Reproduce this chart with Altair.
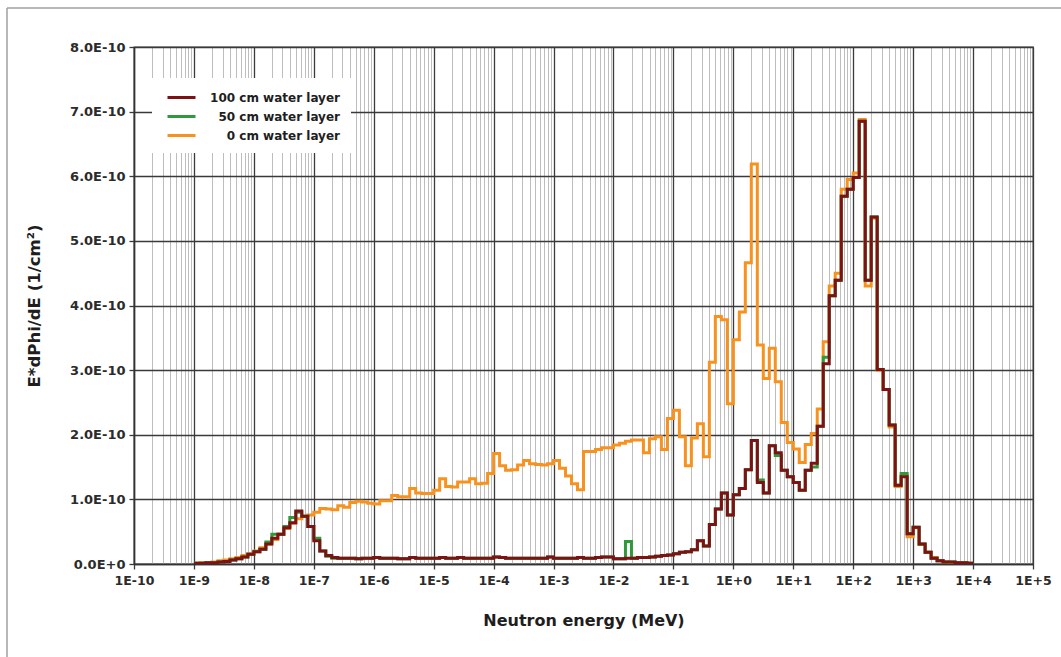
import altair as alt
import pandas as pd

# Energy groups: 10 equal-lethargy groups per decade, first edge at 1E-9 MeV
FIRST_EDGE_EXP = -9
GROUPS_PER_DECADE = 10
FLUX_UNIT = 1e-10  # flux values below are in units of 1E-10 per cm²

series_names = ["100 cm water layer", "50 cm water layer", "0 cm water layer"]
series_colors = ["#7c1214", "#2f9a3a", "#f7921f"]

# E*dPhi/dE per group, one row per decade (1E-9 ... 1E+4 MeV)
flux_100cm = [
    0.01, 0.01, 0.02, 0.02, 0.03, 0.04, 0.06, 0.08, 0.11, 0.15,
    0.19, 0.23, 0.31, 0.40, 0.46, 0.56, 0.64, 0.82, 0.74, 0.58,
    0.36, 0.20, 0.13, 0.10, 0.09, 0.09, 0.09, 0.08, 0.09, 0.09,
    0.10, 0.09, 0.09, 0.09, 0.08, 0.08, 0.10, 0.09, 0.09, 0.09,
    0.09, 0.10, 0.09, 0.09, 0.10, 0.09, 0.09, 0.09, 0.09, 0.09,
    0.11, 0.10, 0.09, 0.09, 0.09, 0.09, 0.09, 0.09, 0.09, 0.11,
    0.09, 0.09, 0.09, 0.09, 0.10, 0.09, 0.09, 0.10, 0.11, 0.11,
    0.08, 0.08, 0.09, 0.09, 0.10, 0.10, 0.11, 0.12, 0.13, 0.14,
    0.16, 0.18, 0.19, 0.22, 0.36, 0.28, 0.61, 0.85, 1.10, 0.76,
    1.07, 1.17, 1.46, 1.91, 1.26, 1.10, 1.83, 1.72, 1.45, 1.35,
    1.26, 1.14, 1.45, 1.56, 2.13, 3.10, 4.15, 4.39, 5.69, 5.80,
    5.98, 6.85, 4.39, 5.37, 3.01, 2.70, 2.15, 1.22, 1.35, 0.47,
    0.57, 0.31, 0.18, 0.09, 0.05, 0.03, 0.03, 0.02, 0.02, 0.01,
]

flux_50cm = [
    0.01, 0.01, 0.02, 0.02, 0.03, 0.04, 0.06, 0.08, 0.11, 0.15,
    0.19, 0.23, 0.34, 0.46, 0.46, 0.58, 0.72, 0.80, 0.74, 0.58,
    0.40, 0.20, 0.12, 0.09, 0.09, 0.09, 0.09, 0.08, 0.09, 0.09,
    0.10, 0.09, 0.09, 0.09, 0.08, 0.08, 0.10, 0.09, 0.09, 0.09,
    0.09, 0.10, 0.09, 0.09, 0.10, 0.09, 0.09, 0.09, 0.09, 0.09,
    0.11, 0.10, 0.09, 0.09, 0.09, 0.09, 0.09, 0.09, 0.09, 0.11,
    0.09, 0.09, 0.09, 0.09, 0.10, 0.09, 0.09, 0.10, 0.11, 0.11,
    0.08, 0.08, 0.35, 0.09, 0.10, 0.10, 0.11, 0.12, 0.13, 0.14,
    0.16, 0.18, 0.19, 0.22, 0.36, 0.28, 0.61, 0.85, 1.10, 0.76,
    1.07, 1.17, 1.46, 1.91, 1.30, 1.10, 1.83, 1.68, 1.45, 1.35,
    1.26, 1.14, 1.45, 1.50, 2.13, 3.20, 4.15, 4.39, 5.69, 5.80,
    5.98, 6.85, 4.39, 5.37, 3.01, 2.70, 2.15, 1.22, 1.40, 0.47,
    0.57, 0.31, 0.18, 0.09, 0.05, 0.03, 0.03, 0.02, 0.02, 0.01,
]

flux_0cm = [
    0.01, 0.02, 0.02, 0.03, 0.05, 0.06, 0.08, 0.10, 0.13, 0.16,
    0.20, 0.25, 0.31, 0.38, 0.46, 0.55, 0.63, 0.70, 0.74, 0.76,
    0.80, 0.86, 0.85, 0.84, 0.90, 0.88, 0.95, 0.97, 0.96, 0.94,
    0.93, 0.98, 0.98, 1.06, 1.04, 1.04, 1.17, 1.10, 1.09, 1.09,
    1.14, 1.32, 1.20, 1.19, 1.27, 1.27, 1.32, 1.24, 1.25, 1.40,
    1.71, 1.52, 1.45, 1.46, 1.53, 1.60, 1.55, 1.54, 1.53, 1.55,
    1.60, 1.48, 1.36, 1.24, 1.15, 1.74, 1.74, 1.77, 1.80, 1.80,
    1.84, 1.87, 1.90, 1.92, 1.92, 1.72, 1.94, 1.97, 1.77, 2.25,
    2.38, 1.97, 1.52, 1.95, 2.17, 1.66, 3.12, 3.83, 3.78, 2.48,
    3.47, 3.90, 4.66, 6.19, 3.39, 2.87, 3.34, 2.82, 2.19, 1.88,
    1.78, 1.57, 1.85, 2.02, 2.40, 3.44, 4.30, 4.50, 5.80, 5.95,
    6.05, 6.88, 4.30, 5.35, 3.00, 2.70, 2.12, 1.20, 1.36, 0.42,
    0.56, 0.30, 0.18, 0.10, 0.05, 0.03, 0.02, 0.02, 0.01, 0.01,
]

# Axis tick positions
x_major_exps = list(range(-10, 6))
x_minor_mults = [2, 3, 4, 5, 6, 7, 8, 9]
y_tick_units = [0, 1, 2, 3, 4, 5, 6, 7, 8]

FONT = "DejaVu Sans"
MAJOR_GRID = "#3a3a3a"
MINOR_GRID = "#bdbdbd"


def step_frame(name, values):
    """Group lower edges with their values, plus the last upper edge to close the final step."""
    n = len(values)
    edges = [10.0 ** (FIRST_EDGE_EXP + k / GROUPS_PER_DECADE) for k in range(n + 1)]
    flux = [v * FLUX_UNIT for v in values] + [values[-1] * FLUX_UNIT]
    return pd.DataFrame({"energy": edges, "flux": flux, "series": name})


x_major = [10.0 ** e for e in x_major_exps]
x_minor = [m * 10.0 ** e for e in x_major_exps[:-1] for m in x_minor_mults]
x_ticks = sorted(x_major + x_minor)
y_ticks = [k * FLUX_UNIT for k in y_tick_units]

IS_DECADE = "abs(log(datum.value) / LN10 - round(log(datum.value) / LN10)) < 0.001"
DECADE_LABEL = (
    f"{IS_DECADE} ? '1E' + (round(log(datum.value) / LN10) >= 0 ? '+' : '') "
    "+ round(log(datum.value) / LN10) : ''"
)

x_scale = alt.Scale(type="log", domain=[x_major[0], x_major[-1]], nice=False)
y_scale = alt.Scale(domain=[0, y_ticks[-1]], nice=False, zero=True)

x_axis = alt.Axis(
    values=x_ticks,
    labelExpr=DECADE_LABEL,
    labelOverlap=False,
    labelFlush=False,
    labelFont=FONT,
    labelFontWeight="bold",
    labelFontSize=12.5,
    labelColor="#2b2b2b",
    labelPadding=5,
    grid=True,
    gridColor={"condition": {"test": IS_DECADE, "value": MAJOR_GRID}, "value": MINOR_GRID},
    gridWidth={"condition": {"test": IS_DECADE, "value": 1.3}, "value": 1},
    tickColor=MAJOR_GRID,
    tickSize={"condition": {"test": IS_DECADE, "value": 5}, "value": 0},
    tickWidth=1.3,
    domainColor="#333333",
    domainWidth=1.5,
    title="Neutron energy (MeV)",
    titleFont=FONT,
    titleFontSize=16,
    titleFontWeight="bold",
    titleColor="#1e1e1e",
    titlePadding=26,
)

y_axis = alt.Axis(
    values=y_ticks,
    labelExpr="datum.value == 0 ? '0.0E+0' : format(datum.value / 1e-10, '.1f') + 'E-10'",
    labelFont=FONT,
    labelFontWeight="bold",
    labelFontSize=13,
    labelColor="#2b2b2b",
    labelPadding=4,
    grid=True,
    gridColor=MAJOR_GRID,
    gridWidth=1.3,
    tickColor=MAJOR_GRID,
    tickSize=5,
    tickWidth=1.3,
    domainColor="#333333",
    domainWidth=1.5,
    title="E*dPhi/dE (1/cm²)",
    titleFont=FONT,
    titleFontSize=16.5,
    titleFontWeight="bold",
    titleColor="#1e1e1e",
    titlePadding=27,
)

legend = alt.Legend(
    title=None,
    orient="none",
    legendX=18,
    legendY=31,
    fillColor="white",
    padding=11,
    symbolType="M-2,0H2",
    symbolSize=196,
    symbolStrokeWidth=3,
    symbolOffset=10,
    labelFont=FONT,
    labelFontWeight="bold",
    labelFontSize=12,
    labelColor="#1e1e1e",
    labelAlign="right",
    labelOffset=150,
    rowPadding=4,
)

color = alt.Color(
    "series:N",
    scale=alt.Scale(domain=series_names, range=series_colors),
    legend=legend,
)


def series_layer(name, values):
    return (
        alt.Chart(step_frame(name, values))
        .mark_line(interpolate="step-after", strokeWidth=3, clip=True)
        .encode(
            x=alt.X("energy:Q", scale=x_scale, axis=x_axis),
            y=alt.Y("flux:Q", scale=y_scale, axis=y_axis),
            color=color,
        )
    )


# Page frame along the top and left edges
frame_data = alt.Data(values=[{"edge": "frame"}])
frame_left = alt.Chart(frame_data).mark_rule(color="#a0a0a0", strokeWidth=1.5).encode(
    x=alt.value(-127), y=alt.value(-39), y2=alt.value(610)
)
frame_top = alt.Chart(frame_data).mark_rule(color="#a0a0a0", strokeWidth=1.5).encode(
    x=alt.value(-127), x2=alt.value(927), y=alt.value(-39)
)

chart = (
    alt.layer(
        series_layer(series_names[2], flux_0cm),
        series_layer(series_names[1], flux_50cm),
        series_layer(series_names[0], flux_100cm),
        frame_left,
        frame_top,
    )
    .properties(
        width=899,
        height=517,
        padding={"left": 134, "top": 47, "right": 28, "bottom": 93},
        autosize=alt.AutoSizeParams(type="none"),
        background="white",
    )
    .configure_view(stroke=MAJOR_GRID, strokeWidth=1.3)
)

chart.save("out.html", embed_options={"renderer": "svg", "actions": False})
